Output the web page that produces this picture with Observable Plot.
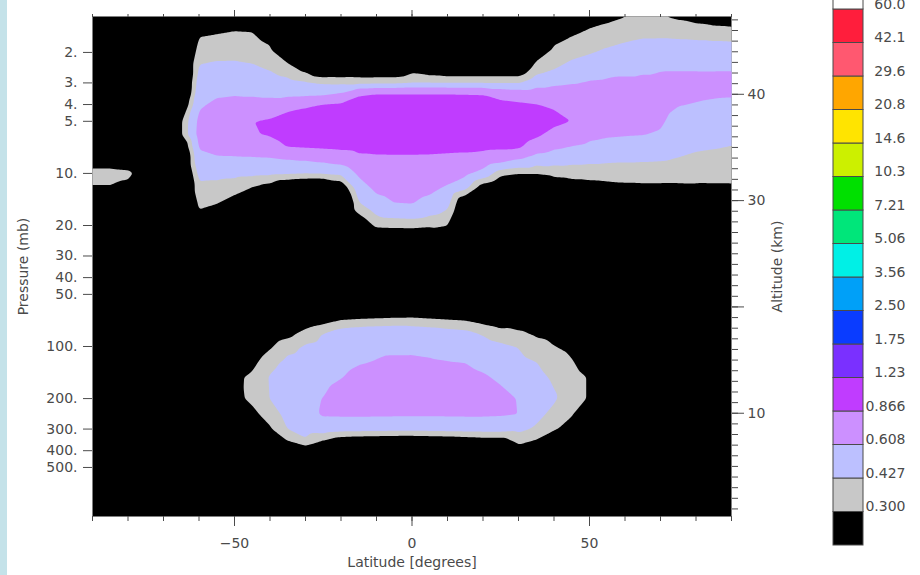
<!DOCTYPE html>
<html>
<head>
<meta charset="utf-8">
<script src="https://cdn.jsdelivr.net/npm/d3@7"></script>
<script src="https://cdn.jsdelivr.net/npm/@observablehq/plot@0.6"></script>
<style>
  html, body { margin: 0; padding: 0; background: #fff; overflow: hidden; }
  #figure { position: relative; width: 920px; height: 575px; font-family: "DejaVu Sans", sans-serif; }
  #strip { position: absolute; left: 0; top: 0; width: 7px; height: 575px; background: #c4e2e9; }
  #main { position: absolute; left: 0; top: 0; }
  #bar { position: absolute; left: 820px; top: -30px; }
</style>
</head>
<body>
<div id="figure"><div id="strip"></div><div id="main"></div><div id="bar"></div></div>
<script>
// Sample grid: latitude columns (degrees) and pressure rows (mb)
const latitudes = [-90, -85, -80, -75, -70, -65, -60, -55, -50, -45, -40, -35, -30, -25, -20, -15, -10, -5, 0,
                   5, 10, 15, 20, 25, 30, 35, 40, 45, 50, 55, 60, 65, 70, 75, 80, 85, 90];
const pressures = [1.2, 1.5, 2, 2.5, 3, 3.5, 4, 5, 6, 7, 8, 10, 12, 15, 20, 25, 30, 40, 50,
                   70, 85, 100, 125, 150, 200, 250, 300, 350, 400, 500, 700, 1000];

// Mixing ratio along each pressure level, one value per latitude column
const at1_2mb  = [0,0,0,0,0,0, .20,.215,.237,.238,.158,0, 0,0,0,0,0,0,0,0,0,0,0,0,0, 0,.149,.20,.239,.258,.284,.287,.287,.26,.222,.185,.16];
const at1_5mb  = [0,0,0,0,0,0, .27,.284,.298,.294,.229,0, 0,0,0,0,0,0,0,0,0,0,0,0,0, .065,.225,.272,.31,.334,.363,.384,.384,.375,.364,.352,.344];
const at2mb    = [0,0,0,0,0,0, .37,.385,.388,.378,.334,.198, .018,0,0,0,0,0,.033,0,0,0,0,0,0, .231,.336,.38,.415,.453,.483,.505,.51,.51,.51,.51,.51];
const at2_5mb  = [0,0,0,0,0,0, .447,.467,.468,.452,.418,.356, .258,.14,.156,.172,.164,.164,.249,.204,.174,.174,.174,.174,.174, .362,.425,.488,.531,.561,.58,.593,.603,.603,.603,.603,.603];
const at3mb    = [0,0,0,0,0,0, .50,.533,.539,.528,.502,.473, .443,.41,.399,.388,.394,.394,.42,.42,.417,.417,.417,.417,.417, .527,.572,.596,.623,.632,.633,.631,.629,.637,.637,.634,.637];
const at3_5mb  = [0,0,0,0,0,0, .545,.59,.60,.592,.577,.565, .57,.582,.64,.843,.886,.886,.886,.886,.886,.877,.867,.776,.74, .723,.711,.72,.689,.677,.667,.656,.649,.637,.627,.62,.617];
const at4mb    = [0,0,0,0,0,.1, .584,.64,.655,.668,.677,.76, .82,.873,.896,.961,.986,.986,.986,.986,.986,.977,.967,.935,.904, .872,.835,.85,.746,.72,.70,.678,.66,.615,.602,.592,.585];
const at5mb    = [0,0,0,0,0,.28, .65,.724,.747,.862,.898,.996, 1.02,1.04,1.07,1.12,1.12,1.12,1.12,1.12,1.12,1.12,1.12,1.105,1.074, 1.04,.932,.862,.72,.669,.655,.643,.626,.557,.54,.529,.518];
const at6mb    = [0,0,0,0,0,.28, .667,.708,.73,.85,.883,.986, 1.0,1.02,1.04,1.046,1.046,1.046,1.046,1.046,1.046,1.036,1.028,1.02,1.016, .906,.777,.72,.647,.624,.616,.611,.595,.506,.488,.477,.464];
const at7mb    = [.05,.05,0,0,0,.1, .624,.654,.667,.698,.746,.876, .894,.91,.929,.936,.936,.936,.936,.936,.928,.926,.918,.912,.906, .733,.645,.604,.574,.555,.544,.535,.521,.467,.447,.437,.424];
const at8mb    = [.156,.156,.12,.05,0,0, .572,.603,.606,.61,.617,.643, .664,.698,.742,.832,.847,.85,.85,.846,.835,.824,.799,.754,.662, .558,.524,.502,.485,.473,.466,.46,.454,.431,.409,.398,.391];
const at10mb   = [.36,.36,.34,.2,0,0, .47,.47,.465,.46,.453,.444, .432,.439,.461,.638,.742,.762,.764,.744,.698,.648,.534,.345,.308, .307,.337,.347,.35,.354,.356,.356,.355,.349,.341,.337,.335];
const at12mb   = [.29,.29,.25,.1,0,0, .396,.385,.358,.302,.245,.136, .09,.076,.176,.53,.655,.689,.693,.66,.588,.482,.226,.135,.07, .1,.197,.233,.249,.262,.273,.278,.278,.28,.284,.286,.287];
const at15mb   = [.1,.1,.05,0,0,0, .324,.3,.236,.1,0,0, 0,0,0,.41,.539,.602,.61,.548,.469,.12,0,0,0, 0,.032,.097,.128,.155,.175,.185,.187,.2,.218,.226,.232];
const at20mb   = [0,0,0,0,0,0, .23,.19,.078,0,0,0, 0,0,0,.175,.328,.337,.347,.327,.30,0,0,0,0, 0,0,0,0,.015,.05,.065,.067,.094,.132,.149,.161];
const at25mb   = [0,0,0,0,0,0, .155,.104,0,0,0,0, 0,0,0,0,.088,.083,.076,.043,.16,0,0,0,0, 0,0,0,0,0,0,0,0,0,.064,.088,.105];
const at30mb   = [0,0,0,0,0,0, .095,.03,0,0,0,0, 0,0,0,0,0,0,0,0,.05,0,0,0,0, 0,0,0,0,0,0,0,0,0,.01,.04,.06];
const at40mb   = [0,0,0,0,0,0, 0,0,0,0,0,0, 0,0,0,0,0,0,0,0,0,0,0,0,0, 0,0,0,0,0,0,0,0,0,0,0,0];
const at50mb   = [0,0,0,0,0,0, 0,0,0,0,0,0, 0,0,0,0,0,0,0,0,0,0,0,0,0, 0,0,0,0,0,0,0,0,0,0,0,0];
const at70mb   = [0,0,0,0,0,0, 0,0,0,.05,.12,.10, .194,.237,.293,.308,.316,.324,.327,.313,.30,.287,.243,.205,.218, .205,.214,.206,.12,0,0,0,0,0,0,0,0];
const at85mb   = [0,0,0,0,0,0, 0,0,0,.13,.21,.258, .36,.433,.51,.54,.56,.57,.55,.53,.50,.48,.418,.364,.33, .284,.264,.242,.17,0,0,0,0,0,0,0,0];
const at100mb  = [0,0,0,0,0,0, 0,0,.05,.187,.282,.385, .442,.466,.53,.56,.58,.58,.58,.57,.55,.53,.483,.452,.42, .348,.303,.271,.20,0,0,0,0,0,0,0,0];
const at125mb  = [0,0,0,0,0,0, 0,0,.20,.267,.384,.467, .485,.514,.56,.60,.617,.633,.635,.627,.617,.609,.568,.524,.473, .432,.36,.312,.24,0,0,0,0,0,0,0,0];
const at150mb  = [0,0,0,0,0,0, 0,0,.27,.325,.437,.509, .518,.552,.60,.657,.679,.696,.698,.69,.681,.656,.627,.58,.513, .469,.404,.344,.29,0,0,0,0,0,0,0,0];
const at200mb  = [0,0,0,0,0,0, 0,0,.26,.329,.43,.525, .572,.612,.692,.74,.716,.715,.715,.713,.71,.705,.70,.654,.60, .52,.446,.344,.29,0,0,0,0,0,0,0,0];
const at250mb  = [0,0,0,0,0,0, 0,0,.15,.259,.351,.47, .561,.62,.623,.624,.621,.62,.62,.62,.62,.622,.622,.617,.605, .462,.386,.302,.24,0,0,0,0,0,0,0,0];
const at300mb  = [0,0,0,0,0,0, 0,0,.05,.20,.282,.429, .485,.503,.482,.478,.476,.472,.47,.473,.478,.482,.482,.482,.462, .408,.308,.27,.20,0,0,0,0,0,0,0,0];
const at350mb  = [0,0,0,0,0,0, 0,0,0,.15,.224,.30, .406,.30,.22,.20,.19,.18,.18,.19,.20,.22,.24,.24,.346, .29,.242,.242,.15,0,0,0,0,0,0,0,0];
const at400mb  = [0,0,0,0,0,0, 0,0,0,.10,.173,.185, .20,.10,.05,.02,0,0,0,0,.02,.04,.06,.06,.23, .19,.184,.218,.10,0,0,0,0,0,0,0,0];
const at500mb  = [0,0,0,0,0,0, 0,0,0,0,.087,0, 0,0,0,0,0,0,0,0,0,0,0,0,.035, .02,.085,.178,.05,0,0,0,0,0,0,0,0];
const at700mb  = [0,0,0,0,0,0, 0,0,0,0,0,0, 0,0,0,0,0,0,0,0,0,0,0,0,0, 0,0,.1,0,0,0,0,0,0,0,0,0];
const at1000mb = [0,0,0,0,0,0, 0,0,0,0,0,0, 0,0,0,0,0,0,0,0,0,0,0,0,0, 0,0,0,0,0,0,0,0,0,0,0,0];

// Contour levels, their labels and band colours (lowest band first)
const levels = [0.3, 0.427, 0.608, 0.866, 1.23, 1.75, 2.5, 3.56, 5.06, 7.21, 10.3, 14.6, 20.8, 29.6, 42.1, 60.0];
const levelLabels = ["0.300", "0.427", "0.608", "0.866", "1.23", "1.75", "2.50", "3.56", "5.06", "7.21",
                     "10.3", "14.6", "20.8", "29.6", "42.1", "60.0"];
const bandColors = ["#000000", "#c8c8c8", "#bcc0ff", "#cc90ff", "#c03cff", "#7a30ff", "#0a3cff", "#00a0f8",
                    "#00f0e6", "#00e67a", "#00e000", "#ccf000", "#ffe400", "#ffa600", "#ff5870", "#ff1e3c", "#ffffff"];

// Axis ticks
const pressureTicks = [2, 3, 4, 5, 10, 20, 30, 40, 50, 100, 200, 300, 400, 500];
const latMajorTicks = [-50, 0, 50];
const latMinorTicks = [-90, -80, -70, -60, -50, -40, -30, -20, -10, 0, 10, 20, 30, 40, 50, 60, 70, 80, 90];
const altMajorTicks = [10, 20, 30, 40];
const altMinorTicks = d3.range(1, 48);

// Altitude <-> pressure with a 7.07 km scale height above 1000 mb
const scaleHeight = 7.07;
const altToP = z => 1000 * Math.exp(-z / scaleHeight);
const pToAlt = p => scaleHeight * Math.log(1000 / p);

const rows = [at1_2mb, at1_5mb, at2mb, at2_5mb, at3mb, at3_5mb, at4mb, at5mb, at6mb, at7mb, at8mb, at10mb,
              at12mb, at15mb, at20mb, at25mb, at30mb, at40mb, at50mb, at70mb, at85mb, at100mb, at125mb,
              at150mb, at200mb, at250mb, at300mb, at350mb, at400mb, at500mb, at700mb, at1000mb];
const samples = pressures.flatMap((p, j) => latitudes.map((lat, i) => ({lat, p, v: rows[j][i]})));

const textStyle = {fontFamily: "DejaVu Sans, sans-serif", fontSize: "14px", color: "#4a4a4a", background: "transparent", overflow: "visible"};

const main = Plot.plot({
  width: 920,
  height: 575,
  marginLeft: 92,
  marginRight: 189,
  marginTop: 16,
  marginBottom: 59,
  style: textStyle,
  x: {domain: [-90, 90]},
  y: {type: "log", domain: [960, 1.24]},
  color: {type: "threshold", domain: levels, range: bandColors},
  marks: [
    Plot.frame({fill: "black"}),
    Plot.contour(samples, {
      x: "lat", y: "p", fill: "v",
      thresholds: levels,
      interpolate: "barycentric",
      pixelSize: 1,
      blur: 1,
      stroke: "none"
    }),
    Plot.axisX(latMinorTicks, {anchor: "bottom", tickSize: 5, fill: "none", label: null}),
    Plot.axisX(latMajorTicks, {anchor: "bottom", tickSize: 10, tickPadding: 12, label: null}),
    Plot.axisX(latMinorTicks, {anchor: "top", tickSize: 3, fill: "none", label: null}),
    Plot.axisX(latMajorTicks, {anchor: "top", tickSize: 7, fill: "none", label: null}),
    Plot.axisY(pressureTicks, {anchor: "left", tickSize: 9, tickPadding: 6, tickFormat: d => `${d}.`, label: null}),
    Plot.axisY(altMinorTicks.map(altToP), {anchor: "right", tickSize: 6, fill: "none", label: null}),
    Plot.axisY(altMajorTicks.map(altToP), {anchor: "right", tickSize: 12, tickPadding: 4,
      tickFormat: p => `${Math.round(pToAlt(p))}`, label: null}),
    Plot.text(["Latitude [degrees]"], {frameAnchor: "bottom", dy: 46, lineAnchor: "middle", textAnchor: "middle", text: d => d}),
    Plot.text(["Pressure (mb)"], {frameAnchor: "left", dx: -69, rotate: -90, lineAnchor: "middle", textAnchor: "middle", text: d => d}),
    Plot.text(["Altitude (km)"], {frameAnchor: "right", dx: 46, rotate: -90, lineAnchor: "middle", textAnchor: "middle", text: d => d})
  ]
});
document.getElementById("main").append(main);

// Colour bar: one box per band, level labels at the box boundaries
const boxes = bandColors.map((color, i) => ({i, color}));
const boundaries = levelLabels.map((label, i) => ({i: i + 1, label}));
const bar = Plot.plot({
  width: 100,
  height: 580,
  margin: 0,
  style: textStyle,
  x: {domain: [0, 1], range: [13, 43], axis: null},
  y: {domain: [0, 17], range: [575, 5.5], axis: null},
  color: {type: "identity"},
  marks: [
    Plot.rect(boxes, {x1: 0, x2: 1, y1: "i", y2: d => d.i + 1, fill: "color", stroke: "#4a4a4a", strokeWidth: 1}),
    Plot.text(boundaries, {x: 1, y: "i", text: "label", textAnchor: "end", lineAnchor: "middle", dx: 42, dy: -5})
  ]
});
document.getElementById("bar").append(bar);
</script>
</body>
</html>
